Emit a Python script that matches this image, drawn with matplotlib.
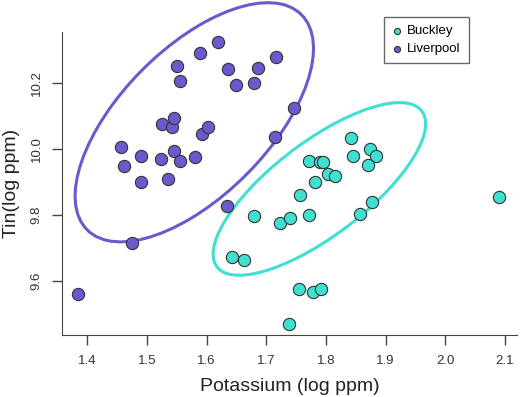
import numpy as np
import matplotlib
matplotlib.use("Agg")
import matplotlib.pyplot as plt
from matplotlib.patches import Ellipse

plt.rcParams['font.family'] = ['Liberation Sans', 'DejaVu Sans']

# Buckley
buckley_k = [1.842, 1.874, 1.884, 1.846, 1.870, 1.771, 1.790, 1.796, 1.804, 1.816,
             1.782, 1.756, 1.877, 1.857, 1.679, 1.723, 1.740, 1.772, 1.642, 1.662,
             1.755, 1.779, 1.792, 1.739, 2.091]
buckley_sn = [10.035, 10.001, 9.981, 9.981, 9.952, 9.965, 9.962, 9.962, 9.925, 9.920,
              9.902, 9.863, 9.839, 9.805, 9.797, 9.777, 9.791, 9.800, 9.673, 9.666,
              9.577, 9.569, 9.576, 9.471, 9.856]

# Liverpool
liverpool_k = [1.385, 1.475, 1.457, 1.461, 1.490, 1.490, 1.524, 1.536, 1.526, 1.542,
               1.546, 1.546, 1.556, 1.550, 1.555, 1.581, 1.592, 1.603, 1.589, 1.619,
               1.636, 1.650, 1.679, 1.687, 1.717, 1.746, 1.715, 1.634]
liverpool_sn = [9.560, 9.716, 10.006, 9.948, 9.979, 9.902, 9.972, 9.909, 10.076, 10.068,
                10.095, 9.996, 9.965, 10.251, 10.206, 9.977, 10.045, 10.068, 10.293, 10.324,
                10.244, 10.195, 10.202, 10.247, 10.281, 10.126, 10.038, 9.827]

farben = {'Buckley': '#40E0D0', 'Liverpool': '#6A5ACD'}


def cov_mcd(daten):
    # einfache MCD-Schaetzung mit C-Steps und Umgewichtung
    n, p = daten.shape
    h = (n + p + 1) // 2
    bester = None
    for start in range(n):
        d0 = np.sum((daten - daten[start]) ** 2, axis=1)
        idx = np.sort(np.argsort(d0)[:h])
        for _ in range(50):
            loc = daten[idx].mean(axis=0)
            cov = np.cov(daten[idx].T)
            X = daten - loc
            d = np.einsum('ij,jk,ik->i', X, np.linalg.inv(cov), X)
            neu = np.sort(np.argsort(d)[:h])
            if np.array_equal(neu, idx):
                break
            idx = neu
        det = np.linalg.det(cov)
        if bester is None or det < bester[0]:
            bester = (det, loc, cov)
    _, loc, cov = bester
    q = -2 * np.log(1 - h / n)
    cov = cov * (h / n) / (1 - np.exp(-q / 2) * (1 + q / 2))
    X = daten - loc
    d = np.einsum('ij,jk,ik->i', X, np.linalg.inv(cov), X)
    ok = d <= -2 * np.log(1 - 0.975)
    return daten[ok].mean(axis=0), np.cov(daten[ok].T)


def konfidenz_ellipse(ax, x, y, farbe, level=0.95):
    daten = np.column_stack([x, y])
    loc, cov = cov_mcd(daten)
    werte, vektoren = np.linalg.eigh(cov)
    reihenfolge = werte.argsort()[::-1]
    werte = werte[reihenfolge]
    vektoren = vektoren[:, reihenfolge]
    winkel = np.degrees(np.arctan2(vektoren[1, 0], vektoren[0, 0]))
    radius = np.sqrt(-2 * np.log(1 - level))
    breite, hoehe = 2 * radius * np.sqrt(werte)
    ell = Ellipse(loc, breite, hoehe, angle=winkel,
                  facecolor='none', edgecolor=farbe, lw=2.2, clip_on=False, zorder=2)
    ax.add_patch(ell)


fig, ax = plt.subplots(figsize=(5.22, 3.97), dpi=100)
fig.subplots_adjust(left=0.119, right=0.99, bottom=0.156, top=0.919)

konfidenz_ellipse(ax, buckley_k, buckley_sn, farben['Buckley'])
konfidenz_ellipse(ax, liverpool_k, liverpool_sn, farben['Liverpool'])

ax.scatter(buckley_k, buckley_sn, s=78, c=farben['Buckley'], edgecolors='#333333',
           linewidths=0.8, zorder=3, label='Buckley')
ax.scatter(liverpool_k, liverpool_sn, s=78, c=farben['Liverpool'], edgecolors='#333333',
           linewidths=0.8, zorder=3, label='Liverpool')

ax.set_xlim(1.358, 2.12)
ax.set_ylim(9.437, 10.355)
ax.set_xticks([1.4, 1.5, 1.6, 1.7, 1.8, 1.9, 2.0, 2.1])
ax.set_yticks([9.6, 9.8, 10.0, 10.2])
ax.set_xticklabels(['1.4', '1.5', '1.6', '1.7', '1.8', '1.9', '2.0', '2.1'])
ax.set_yticklabels(['9.6', '9.8', '10.0', '10.2'], rotation=90, va='center')

for s in ['top', 'right']:
    ax.spines[s].set_visible(False)
for s in ['left', 'bottom']:
    ax.spines[s].set_color('#444444')
ax.tick_params(direction='out', length=7, width=1, colors='#444444', labelsize=9.5,
               labelcolor='#333333', pad=7)

ax.set_xlabel('Potassium (log ppm)', fontsize=14, color='#222222', labelpad=8)
ax.set_ylabel('Tin(log ppm)', fontsize=14, color='#222222', labelpad=8)

leg = ax.legend(loc='upper left', bbox_to_anchor=(0.708, 1.05), fontsize=9.5,
                markerscale=0.5, frameon=True, fancybox=False, handlelength=0.7,
                handletextpad=0.45, borderpad=0.6, labelspacing=0.45, borderaxespad=0)
leg.get_frame().set_edgecolor('#444444')
leg.get_frame().set_linewidth(1)

plt.savefig('out.png', dpi=100)
